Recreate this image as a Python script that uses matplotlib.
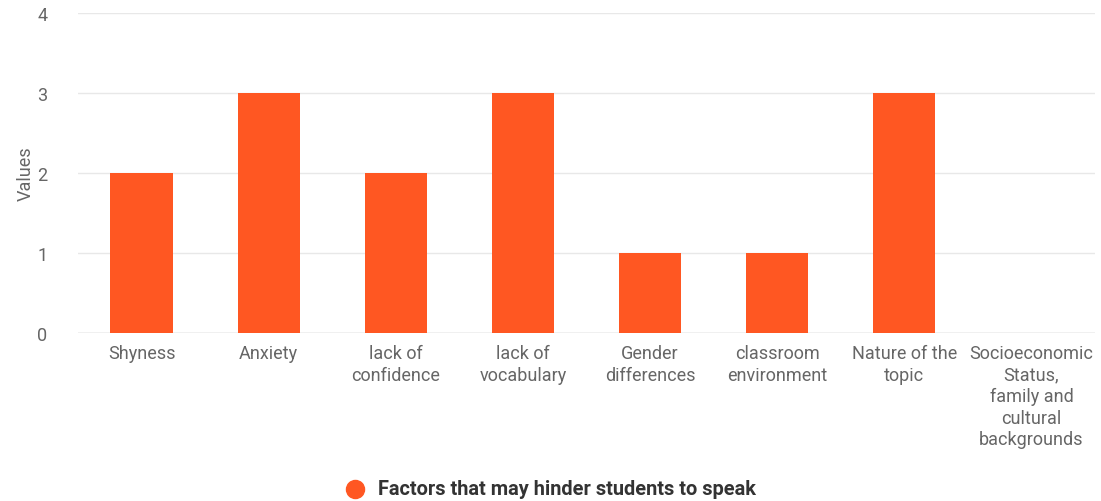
import matplotlib
matplotlib.use("Agg")
import matplotlib.pyplot as plt
from matplotlib.lines import Line2D
import numpy as np

categories = ["Shyness", "Anxiety", "lack of\nconfidence", "lack of\nvocabulary",
              "Gender\ndifferences", "classroom\nenvironment", "Nature of the\ntopic",
              "Socioeconomic\nStatus,\nfamily and\ncultural\nbackgrounds"]
values = [2, 3, 2, 3, 1, 1, 3, 0]
series_name = "Factors that may hinder students to speak"

plt.rcParams['font.family'] = ['Roboto', 'DejaVu Sans']
bar_color = "#FF5722"
text_color = "#666666"

fig = plt.figure(figsize=(11.01, 5.02), dpi=100)
ax = fig.add_axes([78/1101, (502-334)/502, (1095-78)/1101, (334-14)/502])

x = np.arange(len(categories))
ax.bar(x, values, width=0.49, color=bar_color, zorder=3)

ax.set_xlim(-0.5, len(categories) - 0.5)
ax.set_ylim(0, 4)
ax.set_yticks([0, 1, 2, 3, 4])
ax.set_xticks(x)
ax.set_xticklabels(categories, fontsize=13, color=text_color, linespacing=1.25)
ax.tick_params(axis='y', labelsize=13, labelcolor=text_color, length=0, pad=22)
ax.tick_params(axis='x', length=0, pad=8)
ax.grid(axis='y', color="#e8e8e8", linewidth=1, zorder=0)
for s in ax.spines.values():
    s.set_visible(False)
ax.axhline(0, color="#cccccc", linewidth=1, zorder=2)
ax.set_ylabel("Values", fontsize=13, color=text_color, labelpad=2)

# legend marker and label
ly = 1 - 490/502
fig.add_artist(Line2D([355/1101], [ly], marker='o', markersize=13,
                      color=bar_color, linestyle='none', transform=fig.transFigure))
fig.text(378/1101, ly, series_name, color="#333333", fontsize=14.4,
         fontweight='bold', ha='left', va='center')

fig.savefig("out.png", dpi=100)
